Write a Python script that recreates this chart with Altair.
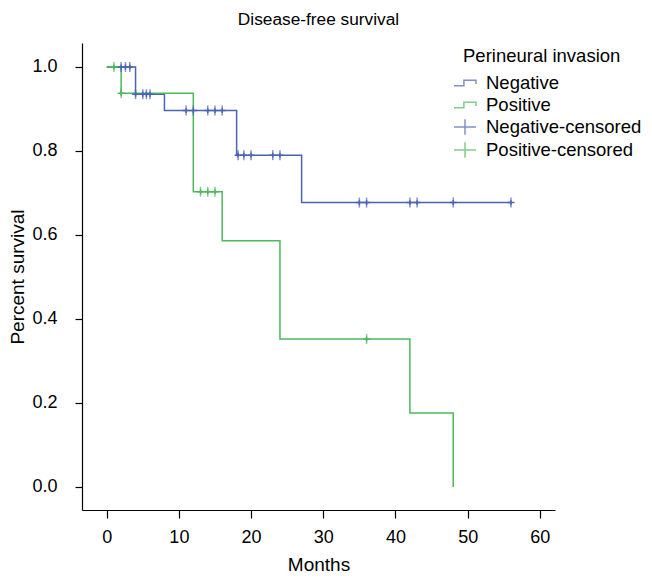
import altair as alt
import pandas as pd

FONT = "Liberation Sans"

groups = ["Negative", "Positive", "Negative-censored", "Positive-censored"]
group_colors = ["#4A63B5", "#4CB85C", "#4A63B5", "#4CB85C"]
BLUE, GREEN = "#4A63B5", "#4CB85C"

# Kaplan-Meier step curves (time in months, survival)
neg_t = [0, 4, 8, 18, 27, 56]
neg_s = [1.0, 0.935, 0.896, 0.790, 0.677, 0.677]
pos_t = [0, 2, 12, 16, 24, 42, 48]
pos_s = [1.0, 0.9375, 0.703, 0.586, 0.352, 0.176, 0.0]

# censored observations
neg_cens_t = [2, 2.6, 3.2, 4, 5, 5.5, 6, 11, 12, 14, 15, 16,
              18.2, 19, 20, 23, 24, 35, 36, 42, 43, 48, 56]
neg_cens_s = [1.0, 1.0, 1.0, 0.935, 0.935, 0.935, 0.935,
              0.896, 0.896, 0.896, 0.896, 0.896,
              0.790, 0.790, 0.790, 0.790, 0.790,
              0.677, 0.677, 0.677, 0.677, 0.677, 0.677]
pos_cens_t = [1, 2, 13, 14, 15, 36]
pos_cens_s = [1.0, 0.9375, 0.703, 0.703, 0.703, 0.352]

x_ticks = [0, 10, 20, 30, 40, 50, 60]
y_ticks = [0.0, 0.2, 0.4, 0.6, 0.8, 1.0]

curves = pd.DataFrame(
    {"t": neg_t + pos_t,
     "s": neg_s + pos_s,
     "group": ["Negative"] * len(neg_t) + ["Positive"] * len(pos_t),
     "col": [BLUE] * len(neg_t) + [GREEN] * len(pos_t)}
)
cens = pd.DataFrame(
    {"t": neg_cens_t + pos_cens_t,
     "s": neg_cens_s + pos_cens_s,
     "group": ["Negative-censored"] * len(neg_cens_t) + ["Positive-censored"] * len(pos_cens_t),
     "col": [BLUE] * len(neg_cens_t) + [GREEN] * len(pos_cens_t)}
)

step_path = "M-1,0.25 L-0.1,0.25 L-0.1,-0.25 L1,-0.25 L1,0.1"
plus_path = "M-1,0 L1,0 M0,-0.7 L0,0.7"
shapes = [step_path, step_path, plus_path, plus_path]

xscale = alt.Scale(domain=[-3.42, 62.1], nice=False, zero=False)
yscale = alt.Scale(domain=[-0.055, 1.057], nice=False, zero=False)

xenc = alt.X("t:Q", scale=xscale, title="Months",
             axis=alt.Axis(values=x_ticks, format="d", grid=False, tickSize=8,
                           labelPadding=10, titlePadding=9))
yenc = alt.Y("s:Q", scale=yscale, title="Percent survival",
             axis=alt.Axis(values=y_ticks, format=".1f", grid=False, tickSize=7,
                           labelPadding=18, titlePadding=4))

legend = alt.Legend(title="Perineural invasion", orient="none", legendX=381, legendY=4,
                    symbolSize=484, symbolStrokeWidth=1.5, symbolOffset=-10, labelOffset=9,
                    titleFontSize=18.5, labelFontSize=18.5, titleFontWeight="normal",
                    titlePadding=5.5, rowPadding=0, padding=0, labelLimit=300,
                    titleLimit=300, labelColor="black", titleColor="black",
                    labelFont=FONT, titleFont=FONT)

lines = alt.Chart(curves).mark_line(interpolate="step-after", strokeWidth=1.5).encode(
    x=xenc, y=yenc,
    color=alt.Color("col:N", scale=None),
    detail="group:N",
)

ticks = alt.Chart(cens).mark_tick(orient="vertical", size=10, thickness=1.5).encode(
    x=alt.X("t:Q", scale=xscale), y=alt.Y("s:Q", scale=yscale),
    color=alt.Color("col:N", scale=None),
)

points = alt.Chart(cens).mark_point(filled=False, size=49, strokeWidth=1.5, opacity=1).encode(
    x=alt.X("t:Q", scale=xscale), y=alt.Y("s:Q", scale=yscale),
    color=alt.Color("group:N", scale=alt.Scale(domain=groups, range=group_colors), legend=legend),
    shape=alt.Shape("group:N", scale=alt.Scale(domain=groups, range=shapes), legend=legend),
)

chart = (
    alt.layer(lines, ticks, points)
    .properties(
        width=473, height=467,
        title=alt.Title("Disease-free survival", fontSize=17.3, fontWeight="normal",
                        font=FONT, color="black", anchor="middle", offset=15),
        autosize=alt.AutoSizeParams(type="none"),
        padding={"left": 74, "top": 35, "right": 89, "bottom": 69},
    )
    .configure_view(stroke=None)
    .configure_axis(
        labelFont=FONT, titleFont=FONT, labelFontSize=18, titleFontSize=19,
        titleFontWeight="normal", labelColor="black", titleColor="black",
        domainColor="black", tickColor="black", domainWidth=1.2, tickWidth=1.2,
    )
)

chart.save("out.html", embed_options={"renderer": "svg", "actions": False})
